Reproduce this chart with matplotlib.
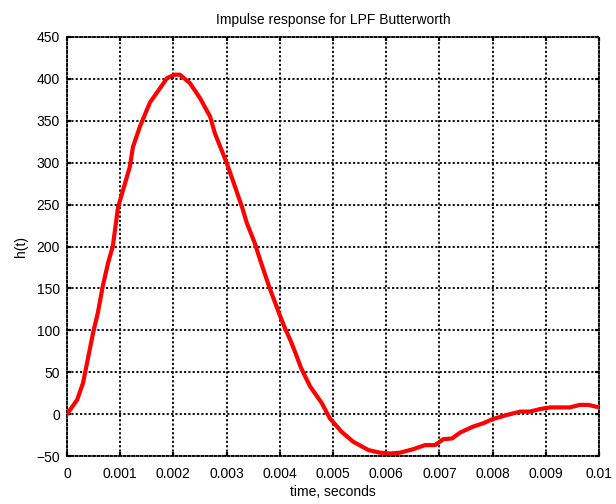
"""
Impulse response of a low-pass Butterworth filter, drawn as a thick red trace
over a dotted black grid.
"""

import matplotlib

matplotlib.use("Agg")
import matplotlib.pyplot as plt

# -----------------------------------------------------------------------------
# Data: sampled impulse response h(t)
# -----------------------------------------------------------------------------
time_s = [
    0.0, 0.00019, 0.0003, 0.00037, 0.00049, 0.00058, 0.00067, 0.00077,
    0.00086, 0.00096, 0.00118, 0.00124, 0.00137, 0.00156, 0.00175, 0.00188,
    0.00203, 0.00212, 0.00231, 0.0025, 0.00269, 0.00278, 0.003, 0.00316,
    0.00329, 0.00338, 0.00353, 0.00363, 0.0038, 0.0039, 0.004, 0.0041,
    0.0042, 0.0043, 0.0044, 0.0045, 0.00457, 0.00479, 0.00494, 0.00516,
    0.00538, 0.00567, 0.00588, 0.00607, 0.00626, 0.0065, 0.00673, 0.00692,
    0.00707, 0.00724, 0.00739, 0.00763, 0.00782, 0.008, 0.00827, 0.00852,
    0.0087, 0.00889, 0.00908, 0.00945, 0.00964, 0.0098, 0.01,
]
h_t = [
    0, 17, 37, 59, 97, 121, 152, 180,
    200, 247, 295, 319, 343, 372, 389, 401,
    405, 405, 395, 377, 355, 335, 300, 271,
    247, 228, 204, 184, 152, 135, 118, 102,
    88, 72, 55, 42, 33, 13, -5, -21,
    -33, -43, -46, -47, -46, -42, -37, -37,
    -30, -29, -22, -15, -11, -6, -1, 3,
    3, 6, 8, 8, 11, 11, 8,
]

x_ticks = [0, 0.001, 0.002, 0.003, 0.004, 0.005, 0.006, 0.007, 0.008, 0.009, 0.01]
x_tick_labels = ["0", "0.001", "0.002", "0.003", "0.004", "0.005",
                 "0.006", "0.007", "0.008", "0.009", "0.01"]
y_ticks = [-50, 0, 50, 100, 150, 200, 250, 300, 350, 400, 450]

plt.rcParams["font.family"] = ["Liberation Sans", "DejaVu Sans"]
plt.rcParams["font.size"] = 10

fig = plt.figure(figsize=(6.16, 5.04), dpi=100)
ax = fig.add_axes([0.1088, 0.0952, 0.8636, 0.8314])

ax.plot(time_s, h_t, color="#ff0000", linewidth=3.0, solid_joinstyle="round",
        zorder=3)

ax.set_xlim(0, 0.01)
ax.set_ylim(-50, 450)
ax.set_xticks(x_ticks)
ax.set_xticklabels(x_tick_labels)
ax.set_yticks(y_ticks)

# dotted black grid, MATLAB style
ax.grid(True, color="black", linestyle=(0, (1.2, 1.2)), linewidth=1.3)
ax.set_axisbelow(False)
for spine in ax.spines.values():
    spine.set_color("black")
    spine.set_linewidth(1.3)
    spine.set_linestyle((0, (1.2, 1.2)))

ax.tick_params(direction="in", length=3, width=1.6, colors="black",
               top=True, right=True, labelsize=10)
ax.tick_params(axis="x", pad=8)
ax.tick_params(axis="y", pad=5)

ax.set_title("Impulse response for LPF Butterworth", fontsize=10, pad=9)
ax.set_xlabel("time, seconds", fontsize=10, labelpad=3)
ax.set_ylabel("h(t)", fontsize=10, labelpad=6)

fig.savefig("out.png", dpi=100)
plt.close(fig)
